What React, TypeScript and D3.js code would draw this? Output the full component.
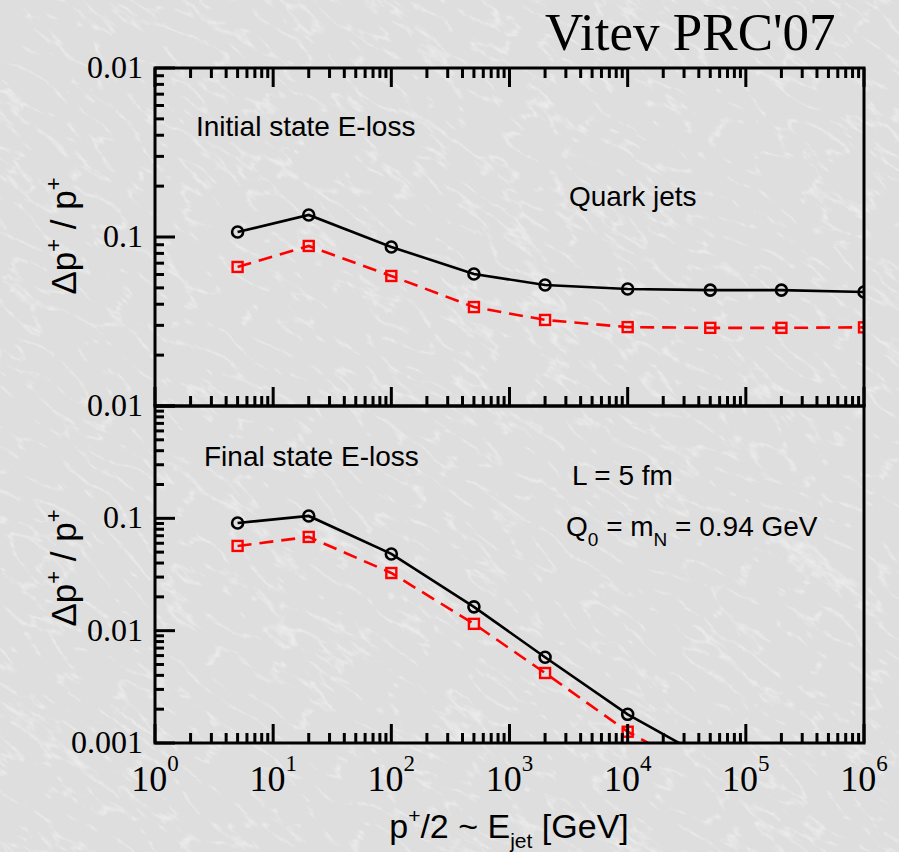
import React from "react";
import * as d3 from "d3";

const energies = [5, 20, 100, 500, 2000, 1e4, 5e4, 2e5, 1e6];
const initialBlack = [0.107, 0.135, 0.0873, 0.0604, 0.052, 0.0492, 0.0485, 0.0485, 0.0473];
const initialRed = [0.0665, 0.0885, 0.0588, 0.0385, 0.0323, 0.0293, 0.029, 0.029, 0.0292];
const finalBlack = [0.091, 0.105, 0.0482, 0.0163, 0.0058, 0.0018, 0.0007];
const finalRed = [0.0568, 0.0683, 0.0326, 0.0115, 0.0042, 0.00126, 0.0005];

const xTickExps = [0, 1, 2, 3, 4, 5, 6];
const topYTicks = [0.01, 0.1, 1];
const topYLabels = ["0.01", "0.1", "0.01"];
const botYTicks = [0.001, 0.01, 0.1];
const botYLabels = ["0.001", "0.01", "0.1"];

const W = 899, H = 852;
const L = 155, R = 864, T1 = 68, MID = 406, B2 = 743;

const SANS = "'Liberation Sans', Arial, Helvetica, sans-serif";
const SERIF = "'Liberation Serif', 'Times New Roman', serif";

const x = d3.scaleLog().domain([1, 1e6]).range([L, R]);
const yTop = d3.scaleLog().domain([0.01, 1]).range([MID, T1]);
const yBot = d3.scaleLog().domain([0.001, 1]).range([B2, MID]);

function minorTicks(lo: number, hi: number): { v: number; major: boolean }[] {
  const out: { v: number; major: boolean }[] = [];
  for (let e = Math.round(Math.log10(lo)); e <= Math.round(Math.log10(hi)); e++) {
    for (let k = 1; k <= 9; k++) {
      const v = k * Math.pow(10, e);
      if (v > hi * 1.0001) break;
      out.push({ v, major: k === 1 });
    }
  }
  return out;
}

function Series({ xs, ys, y, color, dashed, marker, clip }: any) {
  const pts = ys.map((v: number, i: number) => [x(xs[i]), y(v)] as [number, number]);
  const line = d3.line()(pts) || "";
  return (
    <g clipPath={`url(#${clip})`}>
      <path d={line} fill="none" stroke={color} strokeWidth={2.6}
        strokeDasharray={dashed ? "14 8" : undefined} />
      {pts.map((p: [number, number], i: number) =>
        marker === "circle" ? (
          <circle key={i} cx={p[0]} cy={p[1]} r={5.5} fill="none" stroke={color} strokeWidth={2.6} />
        ) : (
          <rect key={i} x={p[0] - 5} y={p[1] - 5} width={10} height={10} fill="none" stroke={color} strokeWidth={2.4} />
        )
      )}
    </g>
  );
}

function YAxis({ y, lo, hi, ticks, labels }: any) {
  const mt = minorTicks(lo, hi);
  return (
    <g>
      {mt.map((t, i) => (
        <line key={i} x1={L} x2={L + (t.major ? 20 : 9)} y1={y(t.v)} y2={y(t.v)} stroke="#000" strokeWidth={3} />
      ))}
      {ticks.map((v: number, i: number) => (
        <text key={i} x={143} y={y(v) + 10} textAnchor="end" fontFamily={SERIF} fontSize={32} fill="#000">
          {labels[i]}
        </text>
      ))}
    </g>
  );
}

function XTicks({ yPos, dir }: any) {
  const mt = minorTicks(1, 1e6);
  return (
    <g>
      {mt.map((t, i) => (
        <line key={i} x1={x(t.v)} x2={x(t.v)} y1={yPos} y2={yPos + dir * (t.major ? 19 : 10)} stroke="#000" strokeWidth={3} />
      ))}
    </g>
  );
}

function YTitle({ cy }: any) {
  return (
    <text transform={`translate(76,${cy}) rotate(-90)`} textAnchor="middle" fontFamily={SANS} fontSize={35} fill="#000">
      Δp<tspan dy={-15} fontSize={22}>+</tspan><tspan dy={15}> / p</tspan><tspan dy={-15} fontSize={22}>+</tspan>
    </text>
  );
}

export default function App() {
  return (
    <svg width={W} height={H} style={{ position: "absolute", left: 0, top: 0 }}>
      <defs>
        <filter id="marble" x="0" y="0" width="100%" height="100%">
          <feTurbulence type="turbulence" baseFrequency="0.018 0.05" numOctaves={4} seed={7} result="t" />
          <feColorMatrix in="t" type="matrix" values="0 0 0 0 1  0 0 0 0 1  0 0 0 0 1  -4 0 0 0 0.8" />
        </filter>
        <clipPath id="clipTop"><rect x={L} y={T1} width={R - L} height={MID - T1} /></clipPath>
        <clipPath id="clipBot"><rect x={L} y={MID} width={R - L} height={B2 - MID} /></clipPath>
      </defs>
      <rect x={0} y={0} width={W} height={H} fill="#dedede" />
      <g transform={`rotate(35 ${W / 2} ${H / 2})`} opacity={0.6}>
        <rect x={-400} y={-400} width={W + 800} height={H + 800} filter="url(#marble)" />
      </g>

      <text x={545} y={50} fontFamily={SERIF} fontSize={53} fill="#000">Vitev PRC'07</text>

      {/* top panel */}
      <Series xs={energies} ys={initialBlack} y={yTop} color="#000" marker="circle" clip="clipTop" />
      <Series xs={energies} ys={initialRed} y={yTop} color="#ff0000" dashed marker="square" clip="clipTop" />
      {/* bottom panel */}
      <Series xs={energies} ys={finalBlack} y={yBot} color="#000" marker="circle" clip="clipBot" />
      <Series xs={energies} ys={finalRed} y={yBot} color="#ff0000" dashed marker="square" clip="clipBot" />

      <XTicks yPos={T1} dir={1} />
      <XTicks yPos={MID} dir={-1} />
      <XTicks yPos={B2} dir={-1} />
      <YAxis y={yTop} lo={0.01} hi={1} ticks={topYTicks} labels={topYLabels} />
      <YAxis y={yBot} lo={0.001} hi={1} ticks={botYTicks} labels={botYLabels} />

      <rect x={L} y={T1} width={R - L} height={MID - T1} fill="none" stroke="#000" strokeWidth={3} />
      <rect x={L} y={MID} width={R - L} height={B2 - MID} fill="none" stroke="#000" strokeWidth={3} />

      {xTickExps.map((e) => (
        <text key={e} x={x(Math.pow(10, e))} y={791} textAnchor="middle" fontFamily={SERIF} fontSize={36} fill="#000">
          10<tspan dy={-20} fontSize={23}>{e}</tspan>
        </text>
      ))}

      <text x={196} y={136} fontFamily={SANS} fontSize={28} fill="#000">Initial state E-loss</text>
      <text x={569} y={206} fontFamily={SANS} fontSize={28} fill="#000">Quark jets</text>
      <text x={204} y={466} fontFamily={SANS} fontSize={28} fill="#000">Final state E-loss</text>
      <text x={572} y={485} fontFamily={SANS} fontSize={28} fill="#000">L = 5 fm</text>
      <text x={566} y={536} fontFamily={SANS} fontSize={28} fill="#000">
        Q<tspan dy={10} fontSize={19}>0</tspan><tspan dy={-10}> = m</tspan><tspan dy={10} fontSize={19}>N</tspan><tspan dy={-10}> = 0.94 GeV</tspan>
      </text>

      <YTitle cy={236} />
      <YTitle cy={568} />

      <text x={509} y={838} textAnchor="middle" fontFamily={SANS} fontSize={34} fill="#000">
        p<tspan dy={-15} fontSize={21}>+</tspan><tspan dy={15}>/2 ~ E</tspan><tspan dy={10} fontSize={21}>jet</tspan><tspan dy={-10}> [GeV]</tspan>
      </text>
    </svg>
  );
}
